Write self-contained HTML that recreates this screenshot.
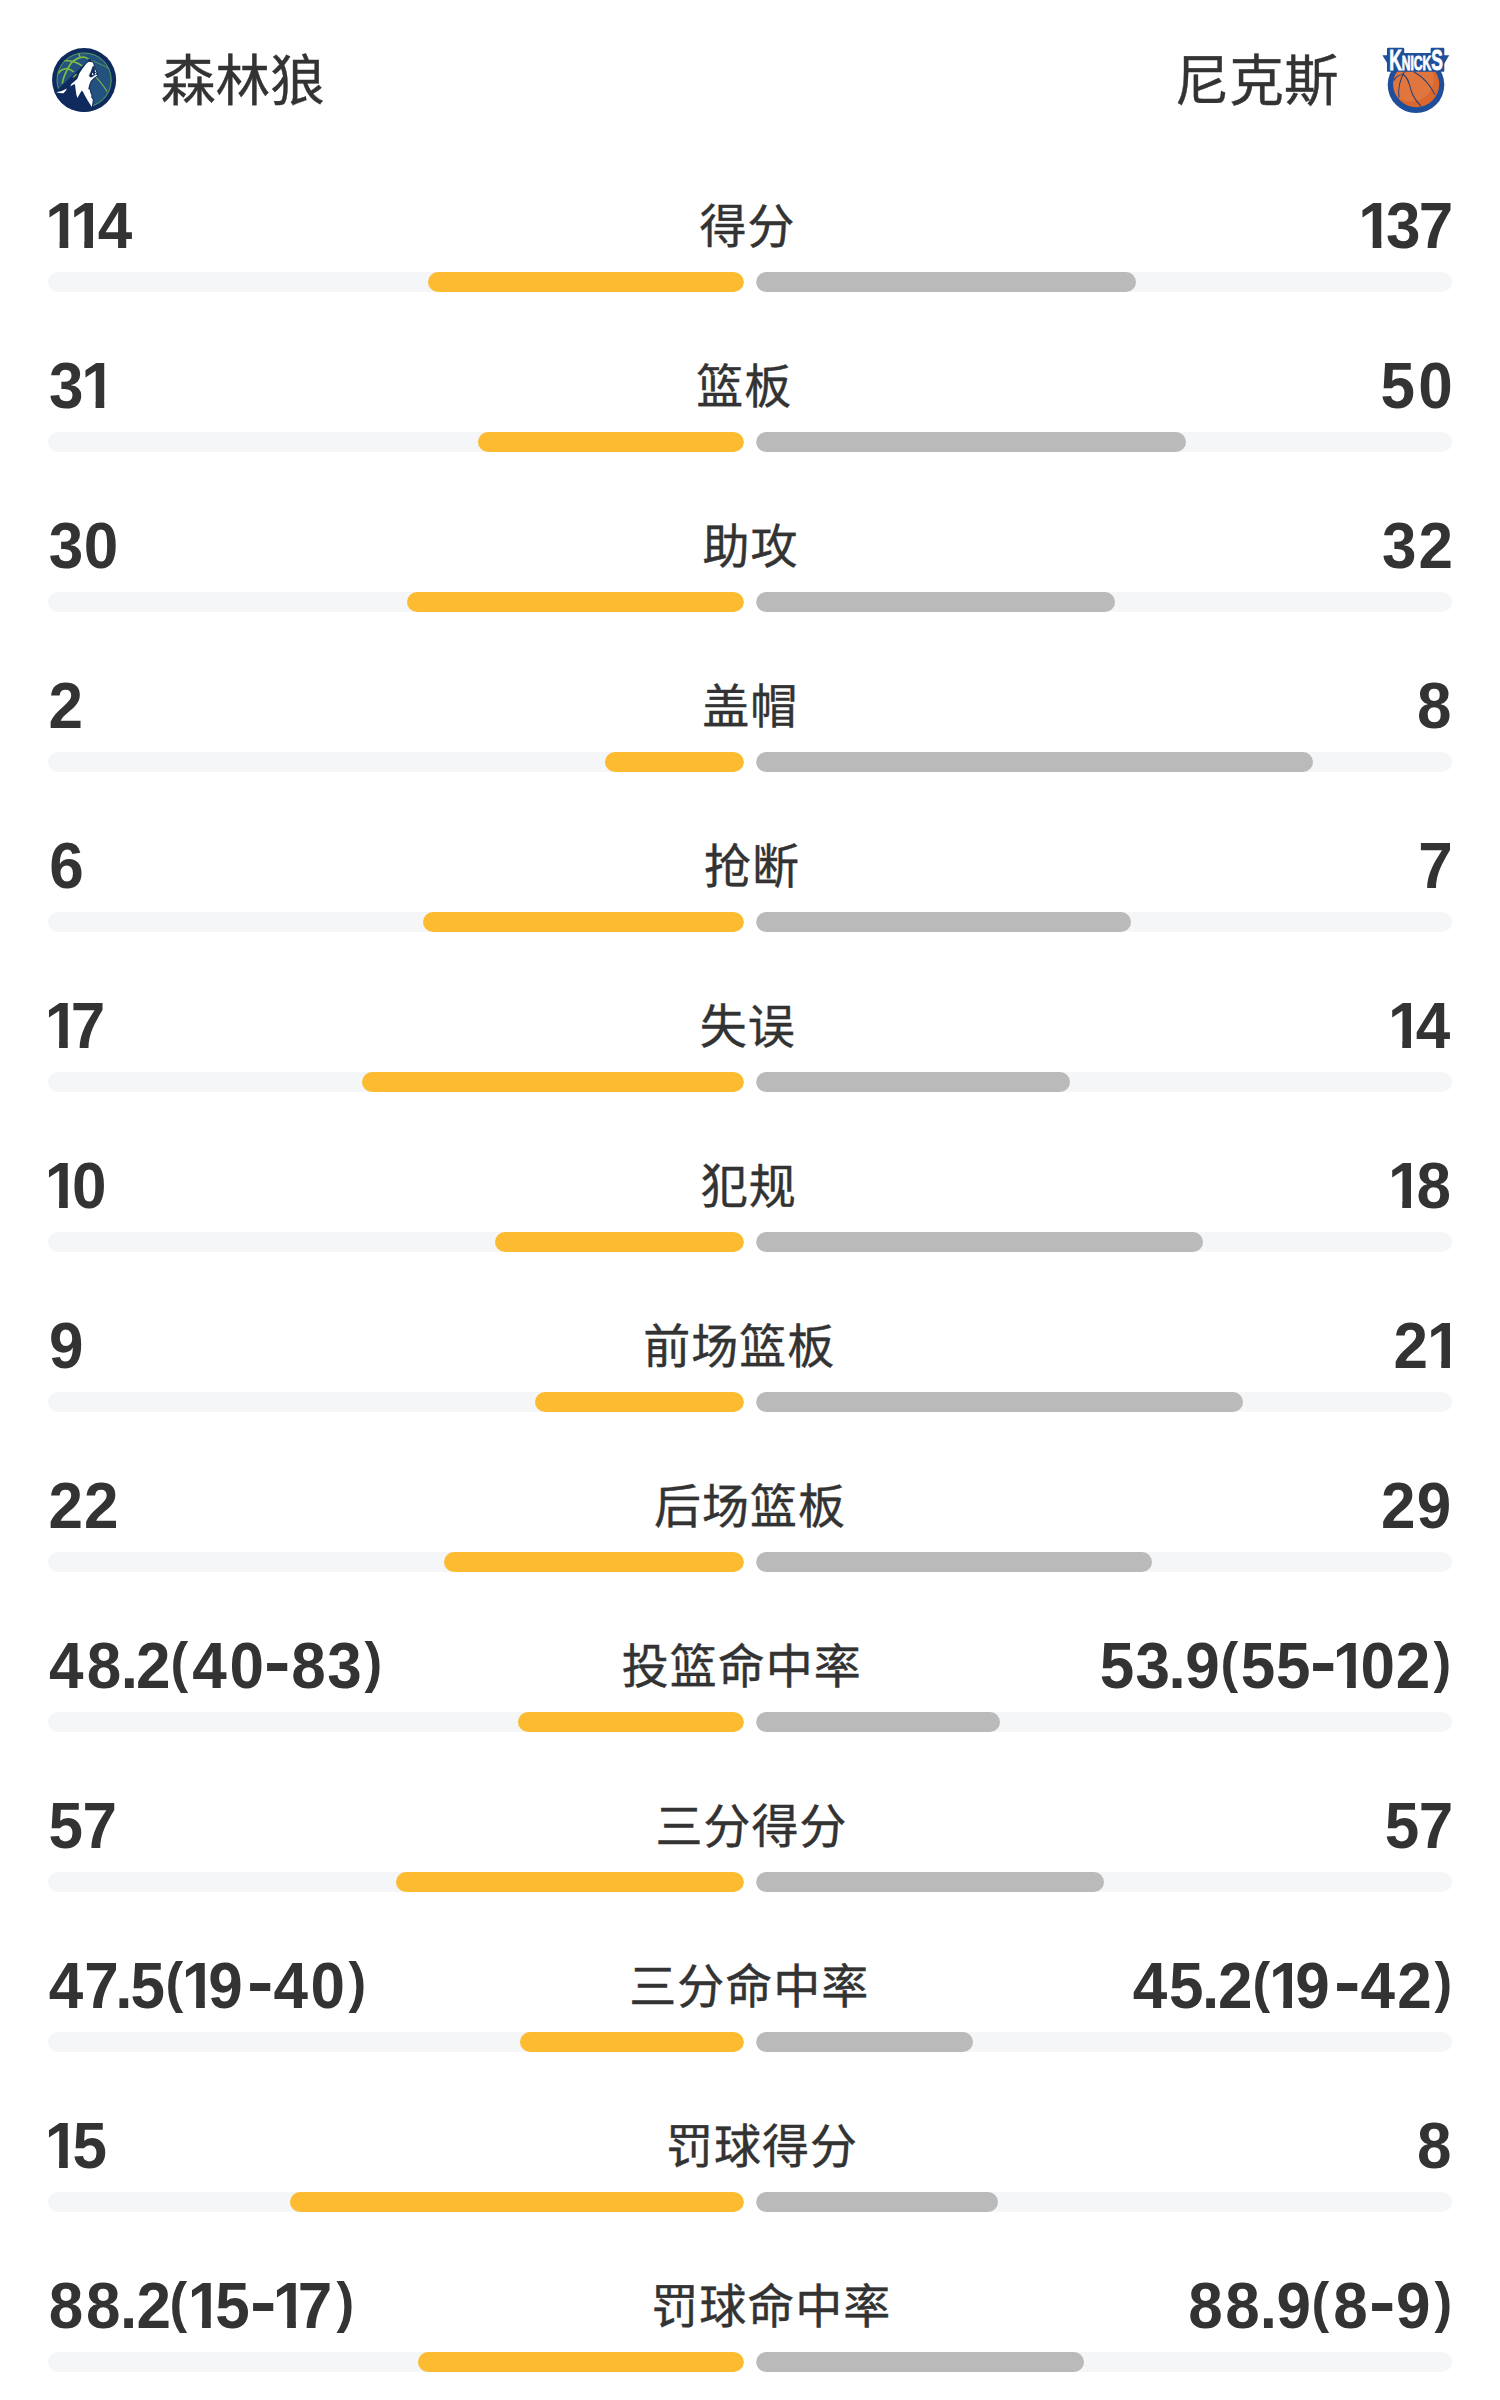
<!DOCTYPE html>
<html lang="zh-CN">
<head>
<meta charset="utf-8">
<title>森林狼 vs 尼克斯</title>
<style>
html,body{margin:0;padding:0;background:#fff;}
body{width:1500px;height:2400px;overflow:hidden;position:relative;color:#333;
  font-family:"Liberation Sans","Noto Sans CJK SC",sans-serif;}
.hdr{height:160px;position:relative;}
.team{position:absolute;top:1.6px;height:160px;line-height:160px;font-size:54.6px;white-space:nowrap;-webkit-text-stroke:0.4px #333;}
.team.l{left:161px;}
.team.r{right:161.5px;}
.logo{position:absolute;}
.row{height:160px;padding:0 48px;box-sizing:border-box;position:relative;}
.vals{display:flex;justify-content:space-between;align-items:flex-start;height:112px;}
.num{display:inline-block;font-family:"Liberation Sans",sans-serif;font-weight:700;font-size:62px;line-height:132px;white-space:nowrap;text-align:left;height:112px;overflow:visible;}
.num i{font-style:normal;display:inline-block;line-height:1;position:relative;top:1px;transform:scaleY(1.045);transform-origin:50% 84.67%;}
.num i.o{clip-path:polygon(0 0,100% 0,100% 0.718em,0.372em 0.718em,0.372em 100%,0.232em 100%,0.232em 0.718em,0 0.718em);}
.num i.h{transform:translateY(-5.2px) scale(1.28,1.08);transform-origin:50% 50%;}
.num i.p{transform:translateY(-5.2px) scale(0.857,0.908);transform-origin:50% 50%;}
.lab{font-size:47px;letter-spacing:1px;margin-right:-1px;line-height:132px;white-space:nowrap;position:relative;top:1.3px;-webkit-text-stroke:0.4px #333;}
.bars{display:flex;justify-content:space-between;height:20px;}
.track{width:696px;height:20px;border-radius:10px;background:#f5f6f8;position:relative;overflow:hidden;}
.fill{position:absolute;top:0;height:20px;border-radius:10px;}
.fy{right:0;background:#fcbb30;}
.fg{left:0;background:#bababa;}
</style>
</head>
<body>
<div class="hdr">
<svg class="logo" style="left:48px;top:44px" width="72" height="72" viewBox="0 0 72 72" role="img" aria-label="森林狼">
<defs><clipPath id="wc"><circle cx="752" cy="750" r="580"/></clipPath><clipPath id="wo"><circle cx="752" cy="750" r="668"/></clipPath></defs>
<g transform="scale(0.048)">
<circle cx="752" cy="750" r="668" fill="#0f2a5c"/>
<circle cx="752" cy="750" r="580" fill="#23527f"/>
<g clip-path="url(#wc)">
<g fill="none" stroke="#7fbd43" stroke-linecap="round">
<path d="M300 810C330 640 400 520 480 400C560 320 660 270 760 275C800 285 830 300 850 318" stroke-width="34"/>
<path d="M645 195Q650 240 668 268" stroke-width="28"/>
<path d="M218 612C260 520 400 470 530 575" stroke-width="30"/>
<path d="M335 352C450 340 600 380 705 452" stroke-width="30"/>
<path d="M905 345C1050 400 1200 460 1275 520" stroke-width="16" stroke="#6cab4c"/>
<path d="M1010 700C1100 800 1180 900 1225 985" stroke-width="22" stroke="#7cb848"/>
<path d="M700 235C800 190 930 195 1010 235" stroke-width="8" stroke="#4f8f63"/>
</g>
<circle cx="752" cy="750" r="564" fill="none" stroke="#5a9a58" stroke-width="20"/>
</g>
<path clip-path="url(#wo)" d="M60 1090L215 935L740 440L880 560L860 900L920 1310L975 1296L1010 1500L0 1500Z" fill="#0f2a5c"/>
<path d="M505 695L590 615L600 642L545 700Z" fill="#7fbd43"/>
<path d="M805 400L858 362L900 374L939 389L953 444L962 480L1028 639L1017 667L944 711L889 778L856 861L839 944L870 950L880 1010L905 1060L900 1110L935 1160L925 1230L912 1315L880 1260L830 1180L770 1080L725 990L700 975L660 1040L612 1125L590 1050L575 950L562 840L520 850L462 885L490 830L560 770L611 722L655 611L728 500Z" fill="#fff" stroke="#0f2a5c" stroke-width="40" stroke-linejoin="round" paint-order="stroke"/>
<path d="M955 470L967 500L972 578L1006 606L1025 632L972 645L917 685L878 688L861 650L867 639L894 589L917 522L935 470Z" fill="#0f2a5c" stroke="#0f2a5c" stroke-width="14" stroke-linejoin="round"/>
<path d="M915 612L935 600L950 640L925 652ZM975 602L995 598L1003 630L980 636Z" fill="#fff"/>
<path d="M170 1005Q300 985 395 925Q370 990 320 1025Q250 1030 170 1005Z" fill="#fff"/>
<path d="M835 312L890 318L905 372L850 368Z" fill="#0f2a5c"/>
</g>
</svg>
  <div class="team l">森林狼</div>
  <div class="team r">尼克斯</div>
<svg class="logo" style="left:1380px;top:44px" width="72" height="72" viewBox="0 0 72 72" role="img" aria-label="尼克斯 KNICKS">
<title>KNICKS</title>
<defs><clipPath id="kc"><circle cx="755" cy="838" r="478"/></clipPath></defs>
<g transform="scale(0.048)">
<circle cx="750" cy="850" r="590" fill="#1f4f9a"/>
<circle cx="755" cy="838" r="478" fill="#dc672c"/>
<g clip-path="url(#kc)">
<circle cx="650" cy="730" r="470" fill="#e1753e"/>
<g fill="none" stroke="#27407a" stroke-width="21" stroke-linecap="round">
<path d="M290 760C330 680 420 635 490 635"/>
<path d="M505 585C430 720 370 900 395 1110"/>
<path d="M470 625C600 700 610 860 660 1000S780 1220 850 1290"/>
<path d="M705 578C900 690 1050 860 1140 1050"/>
</g>
</g>
<path d="M50 232L180 232L180 450Z" fill="#1f4f9a"/>
<path d="M1442 232L1315 232L1315 450Z" fill="#1f4f9a"/>
<path d="M170 105H480V215H1080V105H1315V555H170Z" fill="#1f4f9a" stroke="#1f4f9a" stroke-width="50" stroke-linejoin="round"/>
<text x="192" y="544" font-family="Liberation Sans, sans-serif" font-weight="700" font-size="628" style="font-variant-caps:small-caps" textLength="1120" lengthAdjust="spacingAndGlyphs" fill="#fff" stroke="#fff" stroke-width="18">KnickS</text>
</g>
</svg>
</div>
<div class="row">
  <div class="vals"><span class="num" aria-label="114" style="width:85.8px"><i class="o" style="margin-left:-2.8px">1</i><i class="o" style="margin-left:-9.8px">1</i><i style="margin-left:-6.7px">4</i></span><span class="lab">得分</span><span class="num" aria-label="137" style="width:91.6px"><i class="o" style="margin-left:-2.1px">1</i><i style="margin-left:-6.8px">3</i><i style="margin-left:-1.8px">7</i></span></div>
  <div class="bars"><div class="track"><div class="fill fy" style="width:45.418%"></div></div><div class="track"><div class="fill fg" style="width:54.582%"></div></div></div>
</div>
<div class="row">
  <div class="vals"><span class="num" aria-label="31" style="width:58.3px"><i style="margin-left:0.9px">3</i><i class="o" style="margin-left:-2.2px">1</i></span><span class="lab">篮板</span><span class="num" aria-label="50" style="width:70.8px"><i style="margin-left:-0.7px">5</i><i style="margin-left:3.3px">0</i></span></div>
  <div class="bars"><div class="track"><div class="fill fy" style="width:38.272%"></div></div><div class="track"><div class="fill fg" style="width:61.728%"></div></div></div>
</div>
<div class="row">
  <div class="vals"><span class="num" aria-label="30" style="width:70.2px"><i style="margin-left:0.7px">3</i><i style="margin-left:0.7px">0</i></span><span class="lab">助攻</span><span class="num" aria-label="32" style="width:70.0px"><i>3</i><i style="margin-left:1.9px">2</i></span></div>
  <div class="bars"><div class="track"><div class="fill fy" style="width:48.387%"></div></div><div class="track"><div class="fill fg" style="width:51.613%"></div></div></div>
</div>
<div class="row">
  <div class="vals"><span class="num" aria-label="2" style="width:34.7px"><i style="margin-left:0.6px">2</i></span><span class="lab">盖帽</span><span class="num" aria-label="8" style="width:35.4px"><i style="margin-left:0.3px">8</i></span></div>
  <div class="bars"><div class="track"><div class="fill fy" style="width:20.000%"></div></div><div class="track"><div class="fill fg" style="width:80.000%"></div></div></div>
</div>
<div class="row">
  <div class="vals"><span class="num" aria-label="6" style="width:36.3px"><i style="margin-left:1.2px">6</i></span><span class="lab">抢断</span><span class="num" aria-label="7" style="width:33.2px"><i style="margin-left:-0.6px">7</i></span></div>
  <div class="bars"><div class="track"><div class="fill fy" style="width:46.154%"></div></div><div class="track"><div class="fill fg" style="width:53.846%"></div></div></div>
</div>
<div class="row">
  <div class="vals"><span class="num" aria-label="17" style="width:56.6px"><i class="o" style="margin-left:-3.3px">1</i><i style="margin-left:-8.4px">7</i></span><span class="lab">失误</span><span class="num" aria-label="14" style="width:62.0px"><i class="o" style="margin-left:-2.1px">1</i><i style="margin-left:-6.6px">4</i></span></div>
  <div class="bars"><div class="track"><div class="fill fy" style="width:54.839%"></div></div><div class="track"><div class="fill fg" style="width:45.161%"></div></div></div>
</div>
<div class="row">
  <div class="vals"><span class="num" aria-label="10" style="width:58.4px"><i class="o" style="margin-left:-3.3px">1</i><i style="margin-left:-7.1px">0</i></span><span class="lab">犯规</span><span class="num" aria-label="18" style="width:62.0px"><i class="o" style="margin-left:-2.1px">1</i><i style="margin-left:-5.9px">8</i></span></div>
  <div class="bars"><div class="track"><div class="fill fy" style="width:35.714%"></div></div><div class="track"><div class="fill fg" style="width:64.286%"></div></div></div>
</div>
<div class="row">
  <div class="vals"><span class="num" aria-label="9" style="width:35.9px"><i style="margin-left:1.1px">9</i></span><span class="lab">前场篮板</span><span class="num" aria-label="21" style="width:58.5px"><i style="margin-left:-0.1px">2</i><i class="o" style="margin-left:-1.0px">1</i></span></div>
  <div class="bars"><div class="track"><div class="fill fy" style="width:30.000%"></div></div><div class="track"><div class="fill fg" style="width:70.000%"></div></div></div>
</div>
<div class="row">
  <div class="vals"><span class="num" aria-label="22" style="width:70.0px"><i style="margin-left:0.6px">2</i><i style="margin-left:0.8px">2</i></span><span class="lab">后场篮板</span><span class="num" aria-label="29" style="width:70.8px"><i style="margin-left:-0.1px">2</i><i style="margin-left:1.1px">9</i></span></div>
  <div class="bars"><div class="track"><div class="fill fy" style="width:43.137%"></div></div><div class="track"><div class="fill fg" style="width:56.863%"></div></div></div>
</div>
<div class="row">
  <div class="vals"><span class="num" aria-label="48.2(40-83)" style="width:334.2px"><i style="margin-left:1.1px">4</i><i style="margin-left:3.2px">8</i><i style="margin-left:-0.6px">.</i><i style="margin-left:-1.9px">2</i><i class="p" style="margin-left:-1.8px">(</i><i style="margin-left:3.0px">4</i><i style="margin-left:2.7px">0</i><i class="h" style="margin-left:2.6px">-</i><i style="margin-left:3.9px">8</i><i style="margin-left:1.7px">3</i><i class="p" style="margin-left:1.7px">)</i></span><span class="lab">投篮命中率</span><span class="num" aria-label="53.9(55-102)" style="width:351.7px"><i style="margin-left:-0.7px">5</i><i style="margin-left:1.3px">3</i><i style="margin-left:-1.4px">.</i><i style="margin-left:-0.6px">9</i><i class="p" style="margin-left:-1.0px">(</i><i style="margin-left:1.5px">5</i><i style="margin-left:0.8px">5</i><i class="h" style="margin-left:2.6px">-</i><i class="o" style="margin-left:-1.1px">1</i><i style="margin-left:-6.6px">0</i><i style="margin-left:0.7px">2</i><i class="p" style="margin-left:1.9px">)</i></span></div>
  <div class="bars"><div class="track"><div class="fill fy" style="width:32.520%"></div></div><div class="track"><div class="fill fg" style="width:35.032%"></div></div></div>
</div>
<div class="row">
  <div class="vals"><span class="num" aria-label="57" style="width:68.3px"><i style="margin-left:0.5px">5</i><i style="margin-left:-0.5px">7</i></span><span class="lab">三分得分</span><span class="num" aria-label="57" style="width:66.5px"><i style="margin-left:-0.7px">5</i><i style="margin-left:-0.5px">7</i></span></div>
  <div class="bars"><div class="track"><div class="fill fy" style="width:50.000%"></div></div><div class="track"><div class="fill fg" style="width:50.000%"></div></div></div>
</div>
<div class="row">
  <div class="vals"><span class="num" aria-label="47.5(19-40)" style="width:317.9px"><i style="margin-left:0.8px">4</i><i style="margin-left:0.9px">7</i><i style="margin-left:-3.5px">.</i><i style="margin-left:-1.8px">5</i><i class="p" style="margin-left:-1.3px">(</i><i class="o" style="margin-left:-2.7px">1</i><i style="margin-left:-7.9px">9</i><i class="h" style="margin-left:7.1px">-</i><i style="margin-left:3.0px">4</i><i style="margin-left:2.4px">0</i><i class="p" style="margin-left:2.3px">)</i></span><span class="lab">三分命中率</span><span class="num" aria-label="45.2(19-42)" style="width:320.2px"><i style="margin-left:1.0px">4</i><i style="margin-left:1.8px">5</i><i style="margin-left:-1.6px">.</i><i style="margin-left:-1.2px">2</i><i class="p" style="margin-left:-1.9px">(</i><i class="o" style="margin-left:-2.4px">1</i><i style="margin-left:-8.2px">9</i><i class="h" style="margin-left:7.1px">-</i><i style="margin-left:3.2px">4</i><i style="margin-left:2.2px">2</i><i class="p" style="margin-left:1.3px">)</i></span></div>
  <div class="bars"><div class="track"><div class="fill fy" style="width:32.203%"></div></div><div class="track"><div class="fill fg" style="width:31.148%"></div></div></div>
</div>
<div class="row">
  <div class="vals"><span class="num" aria-label="15" style="width:58.5px"><i class="o" style="margin-left:-3.3px">1</i><i style="margin-left:-6.7px">5</i></span><span class="lab">罚球得分</span><span class="num" aria-label="8" style="width:35.4px"><i style="margin-left:0.3px">8</i></span></div>
  <div class="bars"><div class="track"><div class="fill fy" style="width:65.217%"></div></div><div class="track"><div class="fill fg" style="width:34.783%"></div></div></div>
</div>
<div class="row">
  <div class="vals"><span class="num" aria-label="88.2(15-17)" style="width:305.3px"><i style="margin-left:0.8px">8</i><i style="margin-left:2.8px">8</i><i style="margin-left:-0.7px">.</i><i style="margin-left:-0.7px">2</i><i class="p" style="margin-left:-2.5px">(</i><i class="o" style="margin-left:-1.4px">1</i><i style="margin-left:-7.0px">5</i><i class="h" style="margin-left:3.1px">-</i><i class="o" style="margin-left:-0.6px">1</i><i style="margin-left:-9.6px">7</i><i class="p" style="margin-left:2.5px">)</i></span><span class="lab">罚球命中率</span><span class="num" aria-label="88.9(8-9)" style="width:264.0px"><i style="margin-left:0.3px">8</i><i style="margin-left:2.5px">8</i><i style="margin-left:0.1px">.</i><i style="margin-left:-0.7px">9</i><i class="p" style="margin-left:-1.0px">(</i><i style="margin-left:2.8px">8</i><i class="h" style="margin-left:3.7px">-</i><i style="margin-left:3.9px">9</i><i class="p" style="margin-left:2.1px">)</i></span></div>
  <div class="bars"><div class="track"><div class="fill fy" style="width:46.875%"></div></div><div class="track"><div class="fill fg" style="width:47.059%"></div></div></div>
</div>

</body>
</html>
